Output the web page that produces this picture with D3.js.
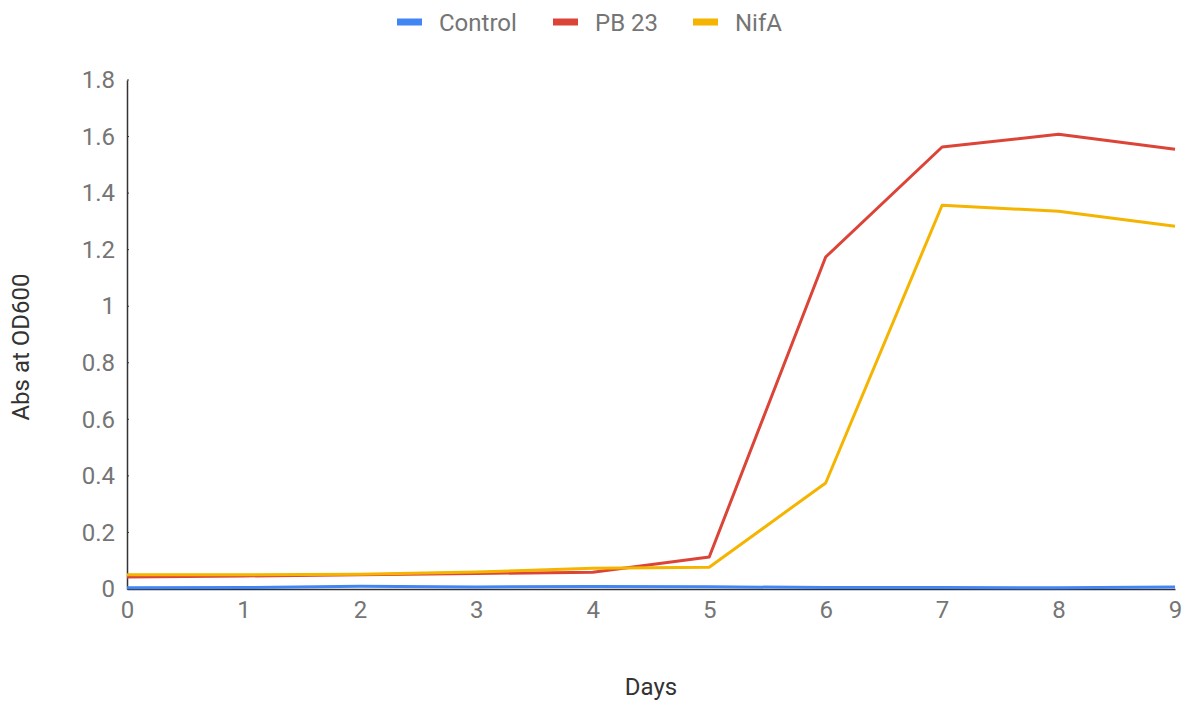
<!DOCTYPE html>
<html>
<head>
<meta charset="utf-8">
<script src="https://cdn.jsdelivr.net/npm/d3@7"></script>
<style>
body { margin: 0; background: #fff; }
text { font-family: Roboto, "Open Sans", sans-serif; }
</style>
</head>
<body>
<script>
// data
const days = [0, 1, 2, 3, 4, 5, 6, 7, 8, 9];
const seriesNames = ["Control", "PB 23", "NifA"];
const control = [0.004, 0.005, 0.010, 0.007, 0.009, 0.008, 0.005, 0.005, 0.004, 0.007];
const pb23 = [0.042, 0.046, 0.050, 0.055, 0.059, 0.113, 1.174, 1.563, 1.608, 1.555];
const nifA = [0.050, 0.050, 0.052, 0.060, 0.073, 0.077, 0.375, 1.357, 1.336, 1.283];
const yTicks = [0, 0.2, 0.4, 0.6, 0.8, 1, 1.2, 1.4, 1.6, 1.8];
const colors = ["#4285F4", "#DB4437", "#F4B400"];

var w = 1182;
var h = 701;
const margin = {top: 80, right: 7, bottom: 112, left: 127};
const width = w - margin.left - margin.right,
    height = h - margin.top - margin.bottom;

const svg = d3.select("body").append("svg")
    .attr("width", w)
    .attr("height", h);

const g = svg.append("g")
    .attr("transform", "translate(" + margin.left + "," + margin.top + ")");

const xScale = d3.scaleLinear().domain([0, 9]).range([0, width]);
const yScale = d3.scaleLinear().domain([0, 1.8]).range([height, 0]);

// y axis: labels on the left, tiny ticks inside
const yAxis = g.append("g")
    .call(d3.axisLeft(yScale).tickValues(yTicks).tickSize(0).tickPadding(12)
        .tickFormat(d => d3.format("")(+d.toFixed(1))));
yAxis.select(".domain").attr("stroke", "#333").attr("stroke-width", 1.5);
yAxis.selectAll("text").attr("fill", "#757575").style("font-size", "24px");
g.selectAll(".ytick").data(yTicks).enter().append("line")
    .attr("x1", 0).attr("x2", 2)
    .attr("y1", d => yScale(d)).attr("y2", d => yScale(d))
    .attr("stroke", "#333").attr("stroke-width", 1);

const xAxis = g.append("g")
    .attr("transform", "translate(0," + height + ")")
    .call(d3.axisBottom(xScale).tickValues(days).tickSize(0).tickPadding(12).tickFormat(d3.format("d")));
xAxis.select(".domain").attr("stroke", "#333").attr("stroke-width", 1.5);
xAxis.selectAll("text").attr("fill", "#757575").style("font-size", "24px");

// lines
const allSeries = [control, pb23, nifA];
const line = d3.line()
    .x((d, i) => xScale(days[i]))
    .y(d => yScale(d));

[1, 2, 0].forEach(k => {
    g.append("path")
        .datum(allSeries[k])
        .attr("fill", "none")
        .attr("stroke", colors[k])
        .attr("stroke-width", 3)
        .attr("stroke-linejoin", "round")
        .attr("d", line);
});

// axis titles
svg.append("text")
    .attr("x", 651)
    .attr("y", 695)
    .attr("text-anchor", "middle")
    .attr("fill", "#333")
    .style("font-size", "24px")
    .text("Days");

svg.append("text")
    .attr("transform", "translate(29,347) rotate(-90)")
    .attr("text-anchor", "middle")
    .attr("fill", "#333")
    .style("font-size", "24px")
    .text("Abs at OD600");

// legend
const legendX = [397, 553, 693];
const legend = svg.selectAll(".legend").data(seriesNames).enter().append("g")
    .attr("transform", (d, i) => "translate(" + legendX[i] + ",22)");
legend.append("rect")
    .attr("x", 0).attr("y", -3.5)
    .attr("width", 25).attr("height", 7)
    .attr("fill", (d, i) => colors[i]);
legend.append("text")
    .attr("x", 42).attr("y", 9)
    .attr("fill", "#757575")
    .style("font-size", "24px")
    .text(d => d);
</script>
</body>
</html>
